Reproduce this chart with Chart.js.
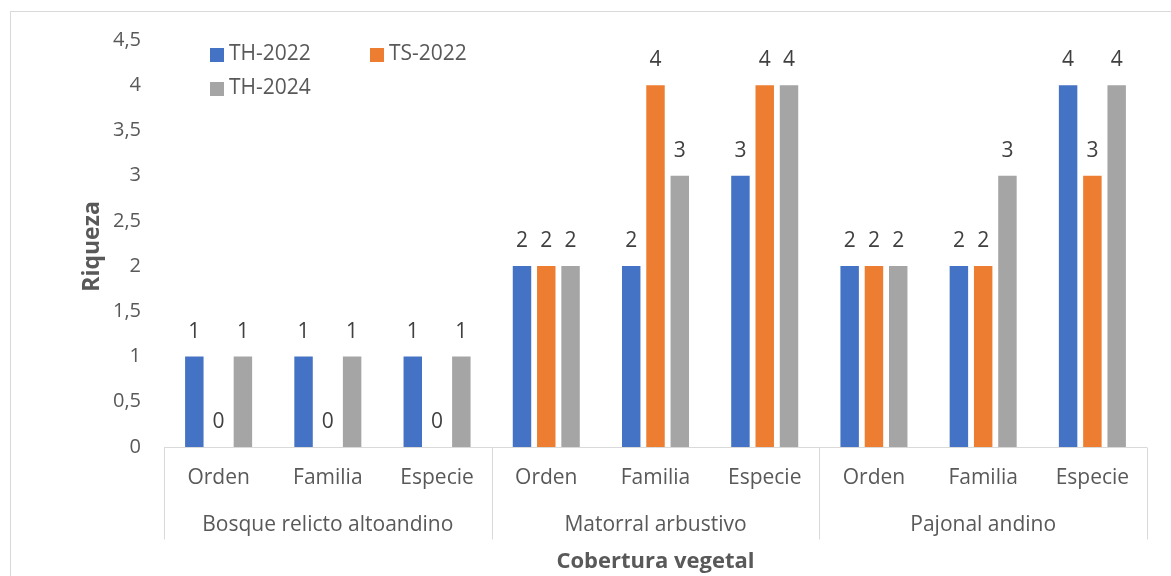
<!DOCTYPE html>
<html>
<head>
<meta charset="utf-8">
<script src="https://cdn.jsdelivr.net/npm/chart.js@4.4.1/dist/chart.umd.min.js"></script>
<style>
  html, body { margin: 0; padding: 0; background: #fff; }
  #wrap { width: 1171px; height: 576px; position: relative; }
</style>
</head>
<body>
<div id="wrap"><canvas id="riquezaChart"></canvas></div>
<script>
// niveles taxonómicos y coberturas
const niveles = ["Orden", "Familia", "Especie"];
const coberturas = ["Bosque relicto altoandino", "Matorral arbustivo", "Pajonal andino"];
const series = ["TH-2022", "TS-2022", "TH-2024"];
const colores = ["#4472C4", "#ED7D31", "#A5A5A5"];

// riqueza por cobertura (Orden, Familia, Especie de cada una)
const th2022 = [1, 1, 1, 2, 2, 3, 2, 2, 4];
const ts2022 = [0, 0, 0, 2, 4, 4, 2, 2, 3];
const th2024 = [1, 1, 1, 2, 3, 4, 2, 3, 4];

const yTicks = [0, 0.5, 1, 1.5, 2, 2.5, 3, 3.5, 4, 4.5];

const FONT = "'Open Sans', sans-serif";
const GRIS_TEXTO = "#595959";
const LINEA = "#D9D9D9";

const labels = [];
coberturas.forEach(function (c) {
  niveles.forEach(function (n) { labels.push([n, c]); });
});

const valores = [th2022, ts2022, th2024];

// marco, ejes categóricos de dos niveles, etiquetas y leyenda
const dibujoExtra = {
  id: "dibujoExtra",
  beforeDraw: function (chart) {
    const ctx = chart.ctx;
    ctx.save();
    ctx.fillStyle = "#fff";
    ctx.fillRect(0, 0, chart.width, chart.height);
    ctx.strokeStyle = LINEA;
    ctx.lineWidth = 1;
    ctx.strokeRect(10.5, 11.5, chart.width + 20, chart.height + 20);
    ctx.restore();
  },
  afterDatasetsDraw: function (chart) {
    const ctx = chart.ctx;
    const area = chart.chartArea;
    const x = chart.scales.x;
    const y = chart.scales.y;
    const n = labels.length;
    const paso = (area.right - area.left) / n;
    ctx.save();

    // línea del eje y separadores de grupo
    ctx.strokeStyle = LINEA;
    ctx.lineWidth = 1;
    const y0 = Math.round(y.getPixelForValue(0)) + 0.5;
    ctx.beginPath();
    ctx.moveTo(area.left, y0);
    ctx.lineTo(area.right, y0);
    for (let g = 0; g <= coberturas.length; g++) {
      const gx = Math.round(area.left + g * niveles.length * paso) + 0.5;
      ctx.moveTo(gx, y0);
      ctx.lineTo(gx, y0 + 92);
    }
    ctx.stroke();

    // etiquetas de nivel y de cobertura
    ctx.fillStyle = GRIS_TEXTO;
    ctx.font = "21px " + FONT;
    ctx.textAlign = "center";
    ctx.textBaseline = "middle";
    labels.forEach(function (l, i) {
      ctx.fillText(l[0], x.getPixelForValue(i), y0 + 31);
    });
    coberturas.forEach(function (c, g) {
      const cx = area.left + (g + 0.5) * niveles.length * paso;
      ctx.fillText(c, cx, y0 + 78);
    });

    // título del eje x
    ctx.font = "bold 22px " + FONT;
    ctx.fillText("Cobertura vegetal", (area.left + area.right) / 2, y0 + 114);

    // título del eje y
    ctx.save();
    ctx.font = "bold 23px " + FONT;
    ctx.translate(92, (area.top + area.bottom) / 2 + 3);
    ctx.rotate(-Math.PI / 2);
    ctx.fillText("Riqueza", 0, 0);
    ctx.restore();

    // valores sobre las barras
    ctx.font = "21px " + FONT;
    ctx.textBaseline = "alphabetic";
    chart.data.datasets.forEach(function (ds, di) {
      const meta = chart.getDatasetMeta(di);
      meta.data.forEach(function (bar, i) {
        ctx.fillStyle = "#404040";
        ctx.fillText(String(ds.data[i]), bar.x, bar.y - 19);
      });
    });

    // leyenda
    ctx.font = "21px " + FONT;
    ctx.textAlign = "left";
    ctx.textBaseline = "middle";
    const pos = [[210, 55], [370, 55], [210, 89]];
    series.forEach(function (s, i) {
      ctx.fillStyle = colores[i];
      ctx.fillRect(pos[i][0], pos[i][1] - 7, 14, 14);
      ctx.fillStyle = GRIS_TEXTO;
      ctx.fillText(s, pos[i][0] + 19, pos[i][1] - 1);
    });

    ctx.restore();
  }
};

new Chart(document.getElementById("riquezaChart").getContext("2d"), {
  type: "bar",
  data: {
    labels: labels,
    datasets: series.map(function (s, i) {
      return {
        label: s,
        data: valores[i],
        backgroundColor: colores[i],
        borderWidth: 0,
        categoryPercentage: 0.667,
        barPercentage: 0.76
      };
    })
  },
  options: {
    responsive: true,
    maintainAspectRatio: false,
    animation: false,
    layout: {
      padding: { top: 40, right: 24, bottom: 0, left: 0 }
    },
    plugins: {
      legend: { display: false },
      tooltip: { enabled: false }
    },
    scales: {
      x: {
        grid: { display: false, drawTicks: false },
        border: { display: false },
        ticks: { display: false },
        afterFit: function (scale) { scale.height = 129; }
      },
      y: {
        min: 0,
        max: 4.5,
        grid: { display: false, drawTicks: false },
        border: { display: false },
        afterBuildTicks: function (scale) {
          scale.ticks = yTicks.map(function (v) { return { value: v }; });
        },
        afterFit: function (scale) { scale.width = 164; },
        ticks: {
          padding: 23,
          color: GRIS_TEXTO,
          font: { family: FONT, size: 20 },
          callback: function (v) { return String(v).replace(".", ","); }
        }
      }
    }
  },
  plugins: [dibujoExtra]
});
</script>
</body>
</html>
